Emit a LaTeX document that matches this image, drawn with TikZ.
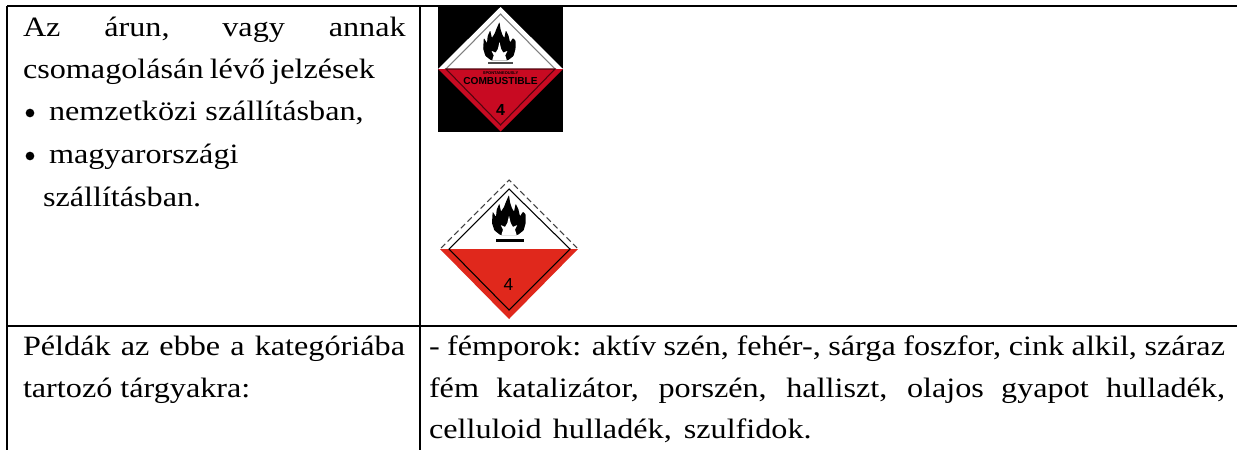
\documentclass[tikz,border=0pt]{standalone}
\usepackage{fontspec}
\setmainfont[FakeStretch=1.15]{Liberation Serif}
\newfontfamily\labelfont{Liberation Sans}
\newcommand{\jline}[2]{\makebox[#1][s]{#2}}
\definecolor{signredA}{HTML}{C80A22}
\definecolor{signredB}{HTML}{E0281C}
\tikzset{
  x=0.75pt,y=-0.75pt,
  rule/.style={draw=black,line width=1.8pt},
  cell/.style={anchor=base west,inner sep=0pt,outer sep=0pt,font=\fontsize{21pt}{24pt}\selectfont,text=black},
  bulletdot/.style={circle,fill=black,inner sep=0pt,minimum size=6.5pt},
  signtext/.style={inner sep=0pt,outer sep=0pt,font=\labelfont},
  flameshape/.pic={
    \fill[black,rounded corners=0.6pt] (0,120) -- (-26,120) -- (-44,106) -- (-51,84) -- (-49,50)
      -- (-39,66) -- (-37,44) -- (-29,26) -- (-24,50) -- (-15,36) -- (-9,20) -- (0,0)
      -- (3,22) -- (9,40) -- (15,50) -- (20,26) -- (28,42) -- (33,64) -- (42,50) -- (50,58)
      -- (50,84) -- (44,106) -- (26,120) -- cycle;
    \fill[white,rounded corners=0.4pt] (0,120) -- (-23,120) -- (-18,104) -- (-25,90) -- (-12,96)
      -- (-5,84) -- (0,62) -- (5,84) -- (12,96) -- (25,90) -- (18,104) -- (23,120) -- cycle;
  },
}
\begin{document}
\begin{tikzpicture}
\useasboundingbox (0,0) rectangle (1237,450);
\fill[white] (0,0) rectangle (1237,450);

% table rules
\coordinate (tl) at (7,6);
\coordinate (tr) at (1237,6);
\coordinate (tm) at (420,6);
\coordinate (ml) at (7,326);
\coordinate (mm) at (420,326);
\coordinate (mr) at (1237,326);
\coordinate (bl) at (7,450);
\coordinate (bm) at (420,450);

% sign one
\fill[black] (438,7) rectangle (563,131.5);
\fill[white] (500.5,7) -- (563,69) -- (438,69) -- cycle;
\fill[signredA] (438,69) -- (563,69) -- (500.5,131.5) -- cycle;
\draw[black!50,line width=0.8pt] (446,69) -- (500.5,14) -- (555,69);
\draw[black!60!signredA,line width=0.8pt] (446,69) -- (500.5,125) -- (555,69) -- cycle;
\begin{scope}[shift={(499.5,22)},x=0.24pt,y=-0.24pt]
  \pic {flameshape};
\end{scope}
\fill[black!70] (488,62) rectangle (513,63.5);
\node[signtext,font=\labelfont\bfseries\fontsize{3pt}{3pt}\selectfont] (sp) at (500.5,73) {SPONTANEOUSLY};
\node[signtext,font=\labelfont\bfseries\fontsize{7.6pt}{8pt}\selectfont] (co) at (500.5,81) {COMBUSTIBLE};
\node[signtext,font=\labelfont\bfseries\fontsize{12pt}{12pt}\selectfont] (fo) at (500.5,110) {4};

% sign two
\fill[signredB] (440,249) -- (578,249) -- (509,319) -- cycle;
\draw[black!75,line width=0.8pt,dash pattern=on 4.5pt off 2.5pt] (441,248) -- (509,180) -- (577,248);
\draw[black,line width=0.8pt] (449,249) -- (509,189) -- (570,249) -- (509,310) -- cycle;
\begin{scope}[shift={(509,195)},x=0.25pt,y=-0.25pt]
  \pic {flameshape};
\end{scope}
\fill[black] (496,239) rectangle (524,241.5);
\node[signtext,font=\labelfont\fontsize{13pt}{13pt}\selectfont,text=black] (fb) at (508.5,284.5) {4};

\draw[rule] (tl) -- (tr);
\draw[rule] (tl) -- (bl);
\draw[rule] (tm) -- (bm);
\draw[rule] (ml) -- (mr);

% left upper cell
\node[cell] (a1) at (23,36) {\jline{287pt}{Az árun, vagy annak}};
\node[cell] (a2) at (23,78) {\jline{264pt}{csomagolásán lévő jelzések}};
\node[bulletdot] (b1) at (30,113) {};
\node[cell] (a3) at (49,120) {nemzetközi szállításban,};
\node[bulletdot] (b2) at (30,156) {};
\node[cell] (a4) at (49,163) {magyarországi};
\node[cell] (a5) at (43,206) {szállításban.};

% lower row
\node[cell] (c1) at (23,355) {\jline{286.5pt}{Példák az ebbe a kategóriába}};
\node[cell] (c2) at (23,397) {tartozó tárgyakra:};
\node[cell] (d1) at (429,355) {\jline{597pt}{- fémporok: aktív szén, fehér-, sárga foszfor, cink alkil, száraz}};
\node[cell] (d2) at (429,397) {\jline{597pt}{fém katalizátor, porszén, halliszt, olajos gyapot hulladék,}};
\node[cell] (d3) at (429,438) {\jline{287pt}{celluloid hulladék, szulfidok.}};
\end{tikzpicture}
\end{document}
